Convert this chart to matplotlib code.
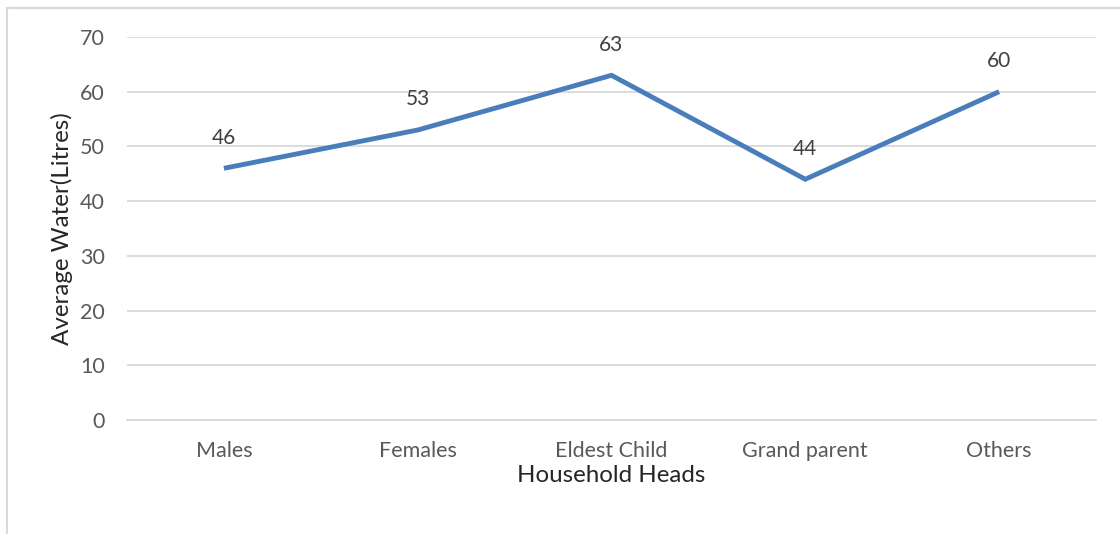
import matplotlib.pyplot as plt
from matplotlib.patches import Rectangle

categories = ["Males", "Females", "Eldest Child", "Grand parent", "Others"]
values = [46, 53, 63, 44, 60]
yticks = [0, 10, 20, 30, 40, 50, 60, 70]

plt.rcParams["font.family"] = ["Lato", "DejaVu Sans"]

fig = plt.figure(figsize=(11.2, 5.34), dpi=100)
ax = fig.add_axes([127 / 1120, 1 - 420 / 534, (1096 - 127) / 1120, (420 - 37) / 534])

x = list(range(len(categories)))
ax.plot(x, values, color="#4A7EBB", linewidth=3.5, solid_joinstyle="miter", solid_capstyle="butt", zorder=3)
for xi, v in zip(x, values):
    ax.annotate(str(v), (xi, v), xytext=(0, 22), textcoords="offset points",
                ha="center", va="center", fontsize=15, color="#404040")

ax.set_xlim(-0.5, len(categories) - 0.5)
ax.set_ylim(0, 70)
ax.set_yticks(yticks)
ax.set_xticks(x)
ax.set_xticklabels(categories)
ax.yaxis.grid(True, color="#D9D9D9", linewidth=1.3)
ax.set_axisbelow(True)
for s in ["top", "right", "left"]:
    ax.spines[s].set_visible(False)
ax.spines["bottom"].set_color("#D9D9D9")
ax.spines["bottom"].set_linewidth(1.3)
ax.tick_params(axis="both", length=0, labelsize=15.5, labelcolor="#595959")
ax.tick_params(axis="y", pad=16)
ax.tick_params(axis="x", pad=15)

ax.set_xlabel("Household Heads", fontsize=17.4, color="#262626", labelpad=3)
ax.set_ylabel("Average Water(Litres)", fontsize=17.4, color="#262626", labelpad=5)

# outer chart border (cut off on the right and bottom)
fig.patches.append(Rectangle((7 / 1120, -0.1), 1.2, 1 - 8 / 534 + 0.1, transform=fig.transFigure,
                             fill=False, edgecolor="#D9D9D9", linewidth=1.5))

fig.savefig("out.png", dpi=100)
